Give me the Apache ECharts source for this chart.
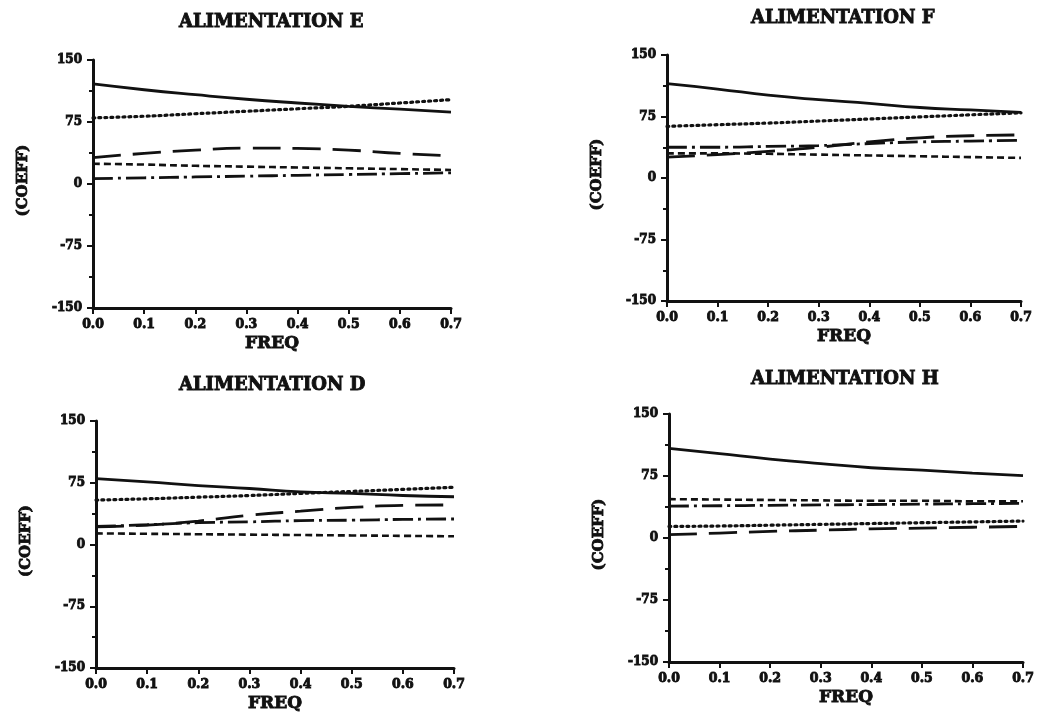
<!DOCTYPE html>
<html>
<head>
<meta charset="utf-8">
<script src="https://cdn.jsdelivr.net/npm/echarts@6/dist/echarts.min.js"></script>
<style>
html,body{margin:0;padding:0;background:#fff;}
#c{width:1040px;height:715px;}
</style>
</head>
<body>
<div id="c"></div>
<script>
// ---- data ----
var freq = [0.0, 0.1, 0.2, 0.3, 0.4, 0.5, 0.6, 0.7];
var yTicks = [-150, -75, 0, 75, 150];
var panelTitles = ['ALIMENTATION E', 'ALIMENTATION F', 'ALIMENTATION D', 'ALIMENTATION H'];

// Panel E
var E_solid     = [121, 114, 108, 102.5, 98, 94, 90.5, 87];
var E_dotted    = [80, 82, 85, 88, 91, 94, 98, 102];
var E_longDash  = [32, 37, 41, 43.5, 43, 41, 37, 34];
var E_shortDash = [24.5, 23.5, 22, 21, 20, 19, 18, 17];
var E_dashDot   = [6.5, 7.5, 8.5, 9.5, 10.5, 11.5, 12.5, 13.5];

// Panel F
var F_solid     = [115, 108.5, 101, 95.5, 91, 86, 83, 80];
var F_dotted    = [63, 65, 67, 69.5, 72, 74.5, 77, 79.5];
var F_longDash  = [25.5, 28.5, 32.5, 37.5, 44, 49, 51.5, 52.5];
var F_shortDash = [30, 30, 29.5, 28.5, 27.5, 26.5, 25.5, 24.5];
var F_dashDot   = [37.5, 37.5, 38.5, 39.5, 42, 44, 45, 46];

// Panel D
var D_solid     = [80, 76, 71.5, 68, 64, 62, 59.5, 58];
var D_dotted    = [54, 55.5, 57.5, 59.5, 62, 64.5, 67, 69.5];
var D_longDash  = [21.5, 23.5, 28.5, 35.5, 40.5, 45, 47.5, 48];
var D_shortDash = [13.5, 13, 12.5, 12, 11.5, 11, 10.5, 10];
var D_dashDot   = [22, 24, 26.5, 27.5, 29, 29.5, 30.5, 31];

// Panel H
var H_solid     = [108.5, 102, 95.5, 90, 85, 82, 78.5, 75.5];
var H_dotted    = [14, 14.5, 15.5, 16.5, 17.5, 18.5, 19.5, 20.5];
var H_longDash  = [4, 6, 8, 9.5, 11, 12, 13, 14];
var H_shortDash = [47, 46.5, 46, 45.5, 45, 45, 44.5, 44.5];
var H_dashDot   = [38.5, 39, 39.5, 40, 40.5, 41, 41.5, 42];

var panels = [
  {solid:E_solid, dotted:E_dotted, longDash:E_longDash, shortDash:E_shortDash, dashDot:E_dashDot},
  {solid:F_solid, dotted:F_dotted, longDash:F_longDash, shortDash:F_shortDash, dashDot:F_dashDot},
  {solid:D_solid, dotted:D_dotted, longDash:D_longDash, shortDash:D_shortDash, dashDot:D_dashDot},
  {solid:H_solid, dotted:H_dotted, longDash:H_longDash, shortDash:H_shortDash, dashDot:H_dashDot}
];

// ---- layout ----
var grids = [
  {left: 93, top: 60, width: 358, height: 248},
  {left: 667, top: 55, width: 354, height: 246},
  {left: 96, top: 421, width: 358, height: 247},
  {left: 669, top: 414, width: 354, height: 248}
];
var titlePos = [
  {left: 174, top: 8},
  {left: 746, top: 4},
  {left: 174, top: 371},
  {left: 746, top: 365}
];

var FONT = 'DejaVu Serif';
var INK = '#111';
function heavy(size) {
  return {fontFamily: FONT, fontWeight: 'bold', fontSize: size, color: INK,
          textBorderColor: INK, textBorderWidth: 0.9};
}
var styles = {
  solid:     {type: 'solid', width: 2.8},
  dotted:    {type: [2, 4], width: 3.2, cap: 'round'},
  longDash:  {type: [28, 12], width: 2.8},
  shortDash: {type: [7, 4], width: 2.6},
  dashDot:   {type: [20, 5, 3, 5], width: 2.8}
};
var order = ['solid', 'dotted', 'longDash', 'shortDash', 'dashDot'];

var option = {
  backgroundColor: '#fff',
  animation: false,
  title: [],
  grid: [],
  xAxis: [],
  yAxis: [],
  series: []
};

panels.forEach(function (p, i) {
  option.title.push({
    text: panelTitles[i], left: titlePos[i].left, top: titlePos[i].top,
    textStyle: heavy(18)
  });
  option.grid.push(grids[i]);
  var xl = heavy(12.5); xl.margin = 10; xl.formatter = function (v) { return v.toFixed(1); };
  var yl = heavy(12); yl.margin = 11;
  yl.formatter = function (v) { return yTicks.indexOf(v) >= 0 ? String(v) : ''; };
  var yn = heavy(15); yn.padding = [0, 0, 0, 7];
  option.xAxis.push({
    type: 'value', gridIndex: i, min: 0, max: 0.7, interval: 0.1,
    name: 'FREQ', nameLocation: 'middle', nameGap: 27,
    nameTextStyle: heavy(17),
    axisLine: {onZero: false, lineStyle: {color: INK, width: 3}},
    axisTick: {show: true, length: 6, lineStyle: {color: INK, width: 2}},
    axisLabel: xl,
    splitLine: {show: false}
  });
  option.yAxis.push({
    type: 'value', gridIndex: i, min: -150, max: 150, interval: 75,
    name: '(COEFF)', nameLocation: 'middle', nameGap: 62, nameRotate: 90,
    nameTextStyle: yn,
    axisLine: {show: true, onZero: false, lineStyle: {color: INK, width: 3}},
    axisTick: {show: true, length: 6, lineStyle: {color: INK, width: 2}},
    minorTick: {show: true, splitNumber: 2, length: 4, lineStyle: {color: INK, width: 2}},
    axisLabel: yl,
    splitLine: {show: false}
  });
  order.forEach(function (k) {
    var vals = p[k];
    option.series.push({
      type: 'line', xAxisIndex: i, yAxisIndex: i, name: k,
      data: freq.map(function (f, j) { return [f, vals[j]]; }),
      smooth: true, symbol: 'none',
      lineStyle: {color: INK, width: styles[k].width, type: styles[k].type, cap: styles[k].cap || 'butt'}
    });
  });
});

var chart = echarts.init(document.getElementById('c'), null, {renderer: 'canvas'});
chart.setOption(option);
</script>
</body>
</html>
